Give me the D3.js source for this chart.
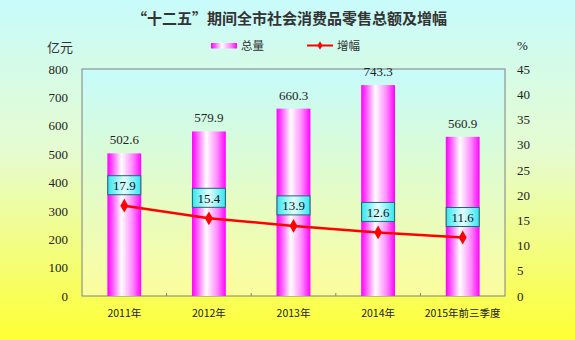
<!DOCTYPE html>
<html>
<head>
<meta charset="utf-8">
<script src="https://cdn.jsdelivr.net/npm/d3@7/dist/d3.min.js"></script>
<style>
  html, body { margin: 0; padding: 0; }
  svg { display: block; }
</style>
</head>
<body>
<svg id="chart" width="575" height="340"></svg>
<script>
// Retail sales totals (亿元) and growth rate (%)
const categories = ["2011年", "2012年", "2013年", "2014年", "2015年前三季度"];
const totals = [502.6, 579.9, 660.3, 743.3, 560.9];
const growth = [17.9, 15.4, 13.9, 12.6, 11.6];
const leftTicks = [0, 100, 200, 300, 400, 500, 600, 700, 800];
const rightTicks = [0, 5, 10, 15, 20, 25, 30, 35, 40, 45];

const W = 575, H = 340;
const plot = { left: 82, right: 505, top: 69, bottom: 296 };

const svg = d3.select("#chart");
const defs = svg.append("defs");

// Page background: cyan at the top fading to yellow at the bottom
const bg = defs.append("linearGradient").attr("id", "bgGrad")
  .attr("x1", 0).attr("y1", 0).attr("x2", 0).attr("y2", 1);
bg.append("stop").attr("offset", "0%").attr("stop-color", "#c8fbfb");
bg.append("stop").attr("offset", "45%").attr("stop-color", "#e6fcd0");
bg.append("stop").attr("offset", "100%").attr("stop-color", "#ffff33");

// Plot area background
const pg = defs.append("linearGradient").attr("id", "plotGrad")
  .attr("x1", 0).attr("y1", 0).attr("x2", 0).attr("y2", 1);
pg.append("stop").attr("offset", "0%").attr("stop-color", "#c6fbfb");
pg.append("stop").attr("offset", "100%").attr("stop-color", "#fcfd9c");

// Bars: magenta edges with a white highlight
const barG = defs.append("linearGradient").attr("id", "barGrad")
  .attr("x1", 0).attr("y1", 0).attr("x2", 1).attr("y2", 0);
barG.append("stop").attr("offset", "0%").attr("stop-color", "#ff00ff");
barG.append("stop").attr("offset", "15%").attr("stop-color", "#ff55ff");
barG.append("stop").attr("offset", "42%").attr("stop-color", "#ffffff");
barG.append("stop").attr("offset", "75%").attr("stop-color", "#ff88ff");
barG.append("stop").attr("offset", "100%").attr("stop-color", "#ff00ff");

// Growth label boxes
const boxG = defs.append("linearGradient").attr("id", "boxGrad")
  .attr("x1", 0).attr("y1", 0).attr("x2", 1).attr("y2", 0);
boxG.append("stop").attr("offset", "0%").attr("stop-color", "#33e6f0");
boxG.append("stop").attr("offset", "50%").attr("stop-color", "#e6ffff");
boxG.append("stop").attr("offset", "100%").attr("stop-color", "#33e6f0");

svg.append("rect").attr("width", W).attr("height", H).attr("fill", "url(#bgGrad)");

const x = d3.scaleBand().domain(categories).range([plot.left, plot.right]).paddingInner(0).paddingOuter(0);
const yL = d3.scaleLinear().domain([0, 800]).range([plot.bottom, plot.top]);
const yR = d3.scaleLinear().domain([0, 45]).range([plot.bottom, plot.top]);

svg.append("rect")
  .attr("x", plot.left).attr("y", plot.top)
  .attr("width", plot.right - plot.left).attr("height", plot.bottom - plot.top)
  .attr("fill", "url(#plotGrad)").attr("stroke", "#808080").attr("stroke-width", 1);

const serif = "'Liberation Serif', 'Times New Roman', serif";
const cjk = "'Noto Sans CJK SC', sans-serif";

// Title
svg.append("text").attr("x", 289.5).attr("y", 24).attr("text-anchor", "middle")
  .attr("font-family", cjk).attr("font-weight", "bold").attr("font-size", 15)
  .attr("fill", "#333").text("“十二五”期间全市社会消费品零售总额及增幅");

// Axis unit labels
svg.append("text").attr("x", 47).attr("y", 52).attr("font-family", cjk)
  .attr("font-size", 13).attr("fill", "#333").text("亿元");
svg.append("text").attr("x", 517).attr("y", 50).attr("font-family", serif)
  .attr("font-size", 13).attr("fill", "#222").text("%");

// Legend
const lg = svg.append("g");
lg.append("rect").attr("x", 211).attr("y", 43).attr("width", 26).attr("height", 5.5).attr("fill", "url(#barGrad)");
lg.append("text").attr("x", 241).attr("y", 50).attr("font-family", cjk).attr("font-size", 11.5).attr("fill", "#333").text("总量");
lg.append("line").attr("x1", 307).attr("x2", 333).attr("y1", 45.5).attr("y2", 45.5).attr("stroke", "#ff0000").attr("stroke-width", 2);
lg.append("path").attr("d", d3.symbol(d3.symbolDiamond, 22)()).attr("transform", "translate(320,45.5)").attr("fill", "#ff0000");
lg.append("text").attr("x", 337).attr("y", 50).attr("font-family", cjk).attr("font-size", 11.5).attr("fill", "#333").text("增幅");

// Left axis
const leftAxis = svg.append("g").attr("transform", `translate(${plot.left},0)`)
  .call(d3.axisLeft(yL).tickValues(leftTicks).tickSize(0).tickPadding(14));
leftAxis.select(".domain").remove();
leftAxis.selectAll("text").attr("font-family", serif).attr("font-size", 13).attr("fill", "#222");

// Right axis
const rightAxis = svg.append("g").attr("transform", `translate(${plot.right},0)`)
  .call(d3.axisRight(yR).tickValues(rightTicks).tickSize(0).tickPadding(12));
rightAxis.select(".domain").remove();
rightAxis.selectAll("text").attr("font-family", serif).attr("font-size", 13).attr("fill", "#222");

// Bottom axis with inward ticks between categories
const bottomAxis = svg.append("g").attr("transform", `translate(0,${plot.bottom})`)
  .call(d3.axisBottom(x).tickSize(0).tickPadding(14));
bottomAxis.select(".domain").remove();
bottomAxis.selectAll("text").attr("font-family", cjk).attr("font-size", 10.5).attr("fill", "#222");
svg.append("g").selectAll("line").data(categories.slice(1)).join("line")
  .attr("x1", d => x(d)).attr("x2", d => x(d))
  .attr("y1", plot.bottom).attr("y2", plot.bottom - 3)
  .attr("stroke", "#808080");

// Bars
const barW = x.bandwidth() * 0.4;
svg.append("g").selectAll("rect").data(categories).join("rect")
  .attr("x", d => x(d) + x.bandwidth() / 2 - barW / 2)
  .attr("y", (d, i) => yL(totals[i]))
  .attr("width", barW)
  .attr("height", (d, i) => plot.bottom - yL(totals[i]))
  .attr("fill", "url(#barGrad)");

// Bar value labels
svg.append("g").selectAll("text").data(categories).join("text")
  .attr("x", d => x(d) + x.bandwidth() / 2)
  .attr("y", (d, i) => yL(totals[i]) - 9)
  .attr("text-anchor", "middle").attr("font-family", serif).attr("font-size", 13).attr("fill", "#222")
  .text((d, i) => totals[i].toFixed(1));

// Growth line
const cx = d => x(d) + x.bandwidth() / 2;
const line = d3.line().x((d, i) => cx(categories[i])).y(d => yR(d));
svg.append("path").datum(growth).attr("d", line)
  .attr("fill", "none").attr("stroke", "#ff0000").attr("stroke-width", 2.5);
svg.append("g").selectAll("path").data(growth).join("path")
  .attr("d", d3.symbol(d3.symbolDiamond, 55)())
  .attr("transform", (d, i) => `translate(${cx(categories[i])},${yR(d)})`)
  .attr("fill", "#ff0000");

// Growth value boxes
const boxes = svg.append("g").selectAll("g").data(growth).join("g")
  .attr("transform", (d, i) => `translate(${cx(categories[i])},${yR(d) - 20})`);
boxes.append("rect").attr("x", -16.5).attr("y", -10).attr("width", 33).attr("height", 19)
  .attr("fill", "url(#boxGrad)").attr("stroke", "#1a6b6b").attr("stroke-width", 1);
boxes.append("text").attr("y", 4.5).attr("text-anchor", "middle")
  .attr("font-family", serif).attr("font-size", 13).attr("fill", "#111")
  .text(d => d.toFixed(1));
</script>
</body>
</html>
